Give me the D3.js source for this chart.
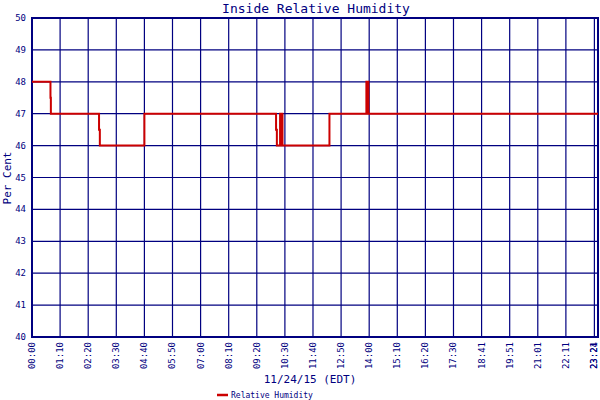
<!DOCTYPE html>
<html><head><meta charset="utf-8">
<script src="https://cdn.jsdelivr.net/npm/d3@7"></script>
<style>body{margin:0;background:#fff}text{font-family:"DejaVu Sans Mono",monospace;fill:#000080}</style>
</head><body><svg id="c" width="600" height="400"></svg>
<script>
// minutes since midnight and humidity readings
const times  = [0, 46, 47, 167, 169, 280, 608, 610, 618, 620, 622, 624, 741, 833, 838, 1410];
const values = [48, 47.5, 47, 46.5, 46, 47, 46.5, 46, 47, 46, 47, 46, 47, 48, 47, 47];
const tickMins   = [0,70,140,210,280,350,420,490,560,630,700,770,840,910,980,1050,1120,1190,1260,1330,1401,1410];
const tickLabels = ['00:00','01:10','02:20','03:30','04:40','05:50','07:00','08:10','09:20','10:30','11:40','12:50','14:00','15:10','16:20','17:30','18:41','19:51','21:01','22:11','23:21','23:24'];
const yTicks = [40,41,42,43,44,45,46,47,48,49,50];

const svg = d3.select('#c');
const navy = '#000080';
const x = d3.scaleLinear().domain([0, 1410]).range([32, 598]);
const y = d3.scaleLinear().domain([40, 50]).range([337, 18]);

// grid
svg.append('g').selectAll('line').data(tickMins).join('line')
  .attr('x1', d => x(d)).attr('x2', d => x(d)).attr('y1', 18).attr('y2', 337)
  .attr('stroke', navy).attr('stroke-width', 1.2);
svg.append('g').selectAll('line').data(yTicks).join('line')
  .attr('x1', 32).attr('x2', 598).attr('y1', d => y(d)).attr('y2', d => y(d))
  .attr('stroke', navy).attr('stroke-width', 1.2);
svg.append('rect').attr('x', 32).attr('y', 18).attr('width', 566).attr('height', 319)
  .attr('fill', 'none').attr('stroke', navy).attr('stroke-width', 2);

// y labels
svg.append('g').selectAll('text').data(yTicks).join('text')
  .attr('x', 26).attr('y', d => y(d) + 3).attr('text-anchor', 'end')
  .attr('font-size', 9).text(d => d);

// x labels
svg.append('g').selectAll('text').data(tickMins).join('text')
  .attr('transform', d => `translate(${Math.min(x(d) + 3, 597)},342) rotate(-90)`)
  .attr('text-anchor', 'end').attr('font-size', 9)
  .text((d, i) => tickLabels[i]);

// series
const line = d3.line().x(d => x(d[0])).y(d => y(d[1])).curve(d3.curveStepAfter);
svg.append('path').datum(times.map((t, i) => [t, values[i]]))
  .attr('d', line).attr('fill', 'none').attr('stroke', '#cc0000').attr('stroke-width', 2);

svg.append('text').attr('x', 316).attr('y', 13).attr('text-anchor', 'middle')
  .attr('font-size', 13).text('Inside Relative Humidity');
svg.append('text').attr('transform', 'translate(11,178) rotate(-90)')
  .attr('text-anchor', 'middle').attr('font-size', 11).text('Per Cent');
svg.append('text').attr('x', 310).attr('y', 383).attr('text-anchor', 'middle')
  .attr('font-size', 11).text('11/24/15 (EDT)');
svg.append('line').attr('x1', 217).attr('x2', 228).attr('y1', 395).attr('y2', 395)
  .attr('stroke', '#cc0000').attr('stroke-width', 2.5);
svg.append('text').attr('x', 231).attr('y', 398).attr('font-size', 8).text('Relative Humidity');
</script></body></html>
